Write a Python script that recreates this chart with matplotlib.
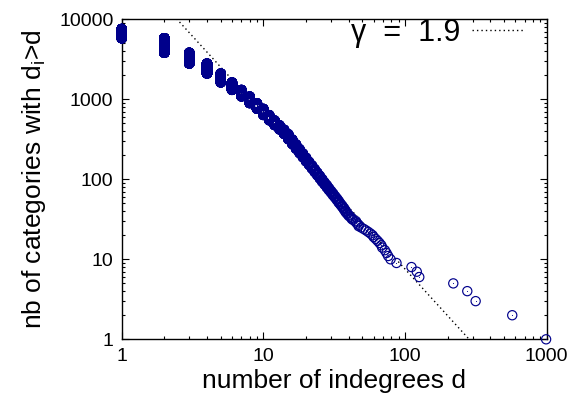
import numpy as np
import matplotlib
matplotlib.use("Agg")
import matplotlib.pyplot as plt
from matplotlib.ticker import FixedLocator, FixedFormatter, LogLocator, NullFormatter

plt.rcParams.update({
    "font.family": ["Liberation Sans", "DejaVu Sans"],
    "mathtext.fontset": "custom",
    "mathtext.rm": "Liberation Sans",
    "font.size": 14,
})

# distinct indegree values d and number of categories with indegree >= d
degrees = list(range(1, 41)) + [41, 42, 43, 45, 46, 47, 49, 51, 53, 55, 57, 59, 60,
                                 62, 64, 66, 68, 69, 72, 74, 76, 79, 87, 111, 121,
                                 126, 219, 275, 315, 571, 990]
n_above = [7560, 5800, 3820, 2800, 2100, 1625, 1310, 1085, 895, 760,
           635, 545, 474, 418, 367, 315, 274, 239, 211, 187,
           166, 150, 135, 122, 111, 101, 92, 85, 78, 72,
           67, 62, 58, 54, 50, 47, 44, 41, 38, 36,
           34, 33, 31, 30, 28, 27, 25, 24, 23, 22, 21, 20, 19,
           18, 17, 16, 15, 14, 13, 12, 11, 10, 9, 8, 7,
           6, 5, 4, 3, 2, 1]

# power-law fit shown as dotted line
fit_gamma = 1.94
fit_log_amp = 4.758
fit_label = "\u03b3  =  1.9"

x_ticks = [1, 10, 100, 1000]
y_ticks = [1, 10, 100, 1000, 10000]

# rank plot: every category with degree d gets its own rank
xs, ys = [], []
for i, d in enumerate(degrees):
    low = n_above[i + 1] + 1 if i + 1 < len(n_above) else 1
    ranks = np.arange(low, n_above[i] + 1)
    xs.append(np.full(len(ranks), d))
    ys.append(ranks)
xs = np.concatenate(xs)
ys = np.concatenate(ys)

fig = plt.figure(figsize=(5.72, 3.99), dpi=100)
ax = fig.add_axes([0.2128, 0.1496, 0.7430, 0.8020])

point_color = "#00008b"
ax.scatter(xs, ys, s=44, facecolors="none", edgecolors=point_color,
           linewidths=0.85, clip_on=False, zorder=3)
# small centre dot of the gnuplot circle symbol
ax.scatter(xs, ys, s=0.6, color=point_color, linewidths=0, clip_on=False, zorder=3)

fx = np.logspace(0, 3, 400)
fy = 10 ** fit_log_amp * fx ** (-fit_gamma)
ax.plot(fx, fy, color="black", linestyle=(0, (1, 2.2)), linewidth=1.0,
        label=fit_label, zorder=2)

ax.set_xscale("log")
ax.set_yscale("log")
ax.set_xlim(1, 1000)
ax.set_ylim(1, 10000)

ax.xaxis.set_major_locator(FixedLocator(x_ticks))
ax.xaxis.set_major_formatter(FixedFormatter([str(t) for t in x_ticks]))
ax.yaxis.set_major_locator(FixedLocator(y_ticks))
ax.yaxis.set_major_formatter(FixedFormatter([str(t) for t in y_ticks]))
for axis in (ax.xaxis, ax.yaxis):
    axis.set_minor_locator(LogLocator(base=10, subs=np.arange(2, 10)))
    axis.set_minor_formatter(NullFormatter())

ax.tick_params(which="both", direction="in", top=True, right=True,
               width=0.8, colors="black")
ax.tick_params(which="major", length=5, labelsize=14)
ax.tick_params(which="minor", length=2.5)
ax.tick_params(axis="x", pad=6)
ax.tick_params(axis="y", pad=6)
for sp in ax.spines.values():
    sp.set_linewidth(1.0)

ax.set_xlabel("number of indegrees d", fontsize=19, labelpad=3)
ax.set_ylabel(r"nb of categories with d$_\mathregular{i}$>d", fontsize=19, labelpad=8)

ax.legend(loc="upper right", bbox_to_anchor=(0.947, 1.005), frameon=False,
          markerfirst=False, fontsize=22, handlelength=1.7, handletextpad=0.4,
          borderpad=0.0, borderaxespad=0.0)

fig.savefig("out.png", dpi=100)
